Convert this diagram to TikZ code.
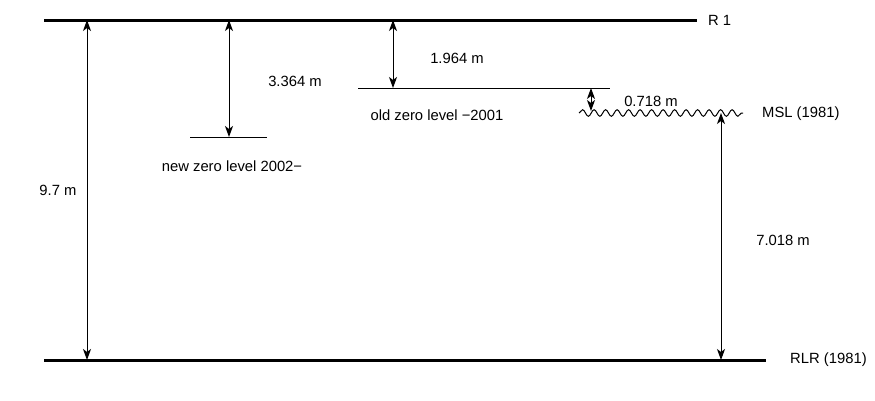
\documentclass[tikz,border=0pt]{standalone}
\usepackage{fontspec}
\setmainfont{Liberation Sans}
\usetikzlibrary{arrows.meta,decorations.pathmorphing}
\begin{document}
\begin{tikzpicture}[x=1pt,y=-1pt,
  lbl/.style={font=\fontsize{14.8}{17}\selectfont,inner sep=0pt},
  datum/.style={line width=3pt},
  level/.style={line width=1pt},
  dim/.style={line width=1pt,{Stealth[length=11pt,width=8pt,inset=3pt]}-{Stealth[length=11pt,width=8pt,inset=3pt]}}]
\useasboundingbox (0,0) rectangle (875,400);
% datums
\coordinate (r1a) at (44,20); \coordinate (r1b) at (697,20);
\coordinate (rlra) at (44,360); \coordinate (rlrb) at (766,360);
\draw[datum] (r1a) -- (r1b);
\draw[datum] (rlra) -- (rlrb);
\node[lbl,anchor=west] (r1) at (708,20) {R 1};
\node[lbl,anchor=west] (rlr) at (790,360) {RLR (1981)};
% levels
\coordinate (nza) at (190,137); \coordinate (nzb) at (267,137);
\draw[level] (nza) -- (nzb);
\coordinate (oza) at (358,88); \coordinate (ozb) at (610,88);
\draw[level] (oza) -- (ozb);
\coordinate (msla) at (579,113); \coordinate (mslb) at (743,113);
\draw[level,decorate,decoration={snake,segment length=11.5pt,amplitude=3.3pt}] (msla) -- (mslb);
\node[lbl,anchor=west] (msl) at (762,114) {MSL (1981)};
\node[lbl] (nzl) at (232,166) {new zero level 2002\textminus};
\node[lbl] (ozl) at (437,115) {old zero level \textminus2001};
% dimension arrows
\coordinate (d1t) at (87,20); \coordinate (d1b) at (87,360);
\draw[dim] (d1t) -- (d1b);
\node[lbl] (l1) at (58,190) {9.7 m};
\coordinate (d2t) at (229,20); \coordinate (d2b) at (229,137);
\draw[dim] (d2t) -- (d2b);
\node[lbl] (l2) at (295,81) {3.364 m};
\coordinate (d3t) at (393,20); \coordinate (d3b) at (393,88);
\draw[dim] (d3t) -- (d3b);
\node[lbl] (l3) at (457,58) {1.964 m};
\coordinate (d4t) at (591,88); \coordinate (d4b) at (591,111);
\draw[dim] (d4t) -- (d4b);
\node[lbl] (l4) at (651,101) {0.718 m};
\coordinate (d5t) at (721,113); \coordinate (d5b) at (721,360);
\draw[dim] (d5t) -- (d5b);
\node[lbl] (l5) at (783,240) {7.018 m};
\end{tikzpicture}
\end{document}
